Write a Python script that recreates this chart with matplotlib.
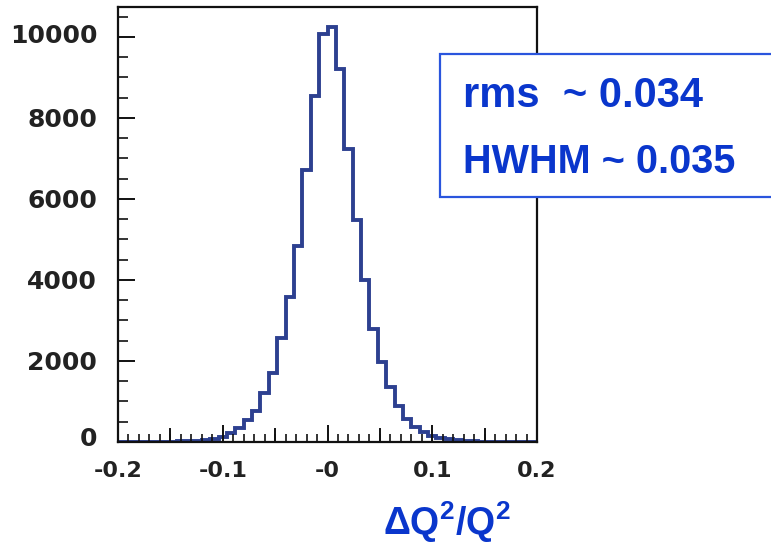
import numpy as np
import matplotlib.pyplot as plt
from matplotlib.patches import Rectangle
from matplotlib.ticker import MultipleLocator
import matplotlib.transforms as mtransforms

plt.rcParams["mathtext.fontset"] = "custom"
plt.rcParams["mathtext.rm"] = "Liberation Sans:bold"
plt.rcParams["mathtext.it"] = "Liberation Sans:bold"
plt.rcParams["mathtext.bf"] = "Liberation Sans:bold"

# histogram of dQ2/Q2, 50 bins from -0.2 to 0.2
edges = np.linspace(-0.2, 0.2, 51)
counts = [0, 1, 1, 2, 4, 6, 9, 14, 22, 35,
          55, 85, 130, 210, 340, 540, 770, 1220, 1710, 2560,
          3590, 4850, 6720, 8550, 10070, 10240, 9200, 7230, 5470, 4000,
          2790, 1980, 1370, 890, 580, 380, 240, 150, 100, 65,
          42, 27, 17, 11, 7, 4, 3, 2, 1, 0]

xticks = [-0.2, -0.1, 0.0, 0.1, 0.2]
xticklabels = ["-0.2", "-0.1", "-0", "0.1", "0.2"]
yticks = [0, 2000, 4000, 6000, 8000, 10000]

stats_lines = ["rms  ~ 0.034", "HWHM ~ 0.035"]

blue = "#0a36cc"

fig = plt.figure(figsize=(7.71, 5.45), dpi=100)
ax = fig.add_axes([118 / 771, 1 - 442 / 545, 419 / 771, 435 / 545])

ax.stairs(counts, edges, color="#2d4090", linewidth=2.8)

ax.set_xlim(-0.2, 0.2)
ax.set_ylim(0, 10740)

ax.set_xticks(xticks)
ax.set_xticklabels(xticklabels)
ax.xaxis.set_minor_locator(MultipleLocator(0.01))
ax.set_yticks(yticks)
ax.yaxis.set_minor_locator(MultipleLocator(500))

ax.tick_params(axis="both", which="both", direction="in", colors="#111111",
               top=False, right=False)
ax.tick_params(axis="x", which="major", length=12, width=1.4, pad=14,
               labelsize=16)
ax.tick_params(axis="x", which="minor", length=6, width=1.2)
ax.tick_params(axis="y", which="major", length=12, width=1.4, pad=15,
               labelsize=18)
ax.tick_params(axis="y", which="minor", length=7, width=1.2)

# extra ticks at the half steps on x
for xv in [-0.15, -0.05, 0.05, 0.15]:
    ax.plot([xv, xv], [0, 330], color="#111111", lw=1.4, clip_on=False)

for lab in ax.get_xticklabels() + ax.get_yticklabels():
    lab.set_fontweight("bold")
    lab.set_color("#222222")

# nudge the end labels on y upward a little
ylabs = ax.get_yticklabels()
ylabs[0].set_transform(ylabs[0].get_transform() +
                       mtransforms.ScaledTranslation(0, 5 / 100, fig.dpi_scale_trans))
ylabs[-1].set_transform(ylabs[-1].get_transform() +
                        mtransforms.ScaledTranslation(0, 3 / 100, fig.dpi_scale_trans))

for s in ax.spines.values():
    s.set_linewidth(1.6)
    s.set_color("#111111")

# stats box running off the right edge
fig.add_artist(Rectangle((440 / 771, 1 - 197 / 545), 0.5, 143 / 545,
                         transform=fig.transFigure, facecolor="white",
                         edgecolor="#2a55dd", linewidth=1.6, clip_on=False))
fig.text(463 / 771, 1 - 107 / 545, stats_lines[0], color=blue, fontsize=30,
         fontweight="bold", family="Liberation Sans", va="baseline")
fig.text(463 / 771, 1 - 173 / 545, stats_lines[1], color=blue, fontsize=28.5,
         fontweight="bold", family="Liberation Sans", va="baseline")

fig.text(447 / 771, 1 - 522 / 545, r"$\Delta\mathrm{Q}^2/\mathrm{Q}^2$",
         color=blue, fontsize=27, ha="center", va="center")

fig.savefig("out.png", dpi=100)
